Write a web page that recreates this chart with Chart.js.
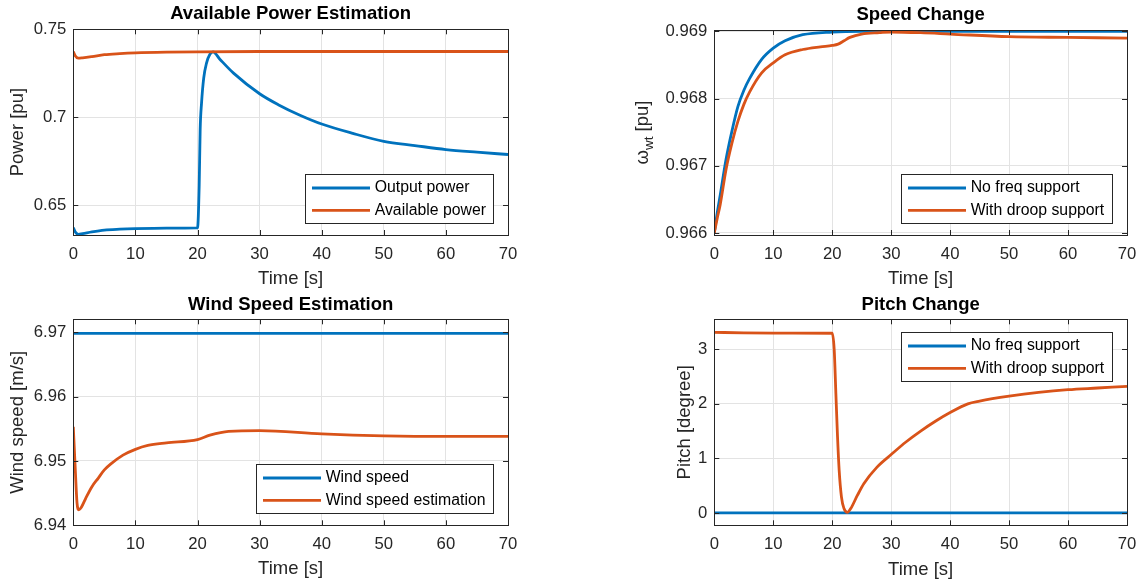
<!DOCTYPE html>
<html>
<head>
<meta charset="utf-8">
<script src="https://cdn.jsdelivr.net/npm/chart.js@4.4.1/dist/chart.umd.min.js"></script>
<style>
  html, body { margin: 0; padding: 0; background: #fff; }
  #wrap { position: relative; width: 1148px; height: 588px; overflow: hidden; }
  .panel { position: absolute; width: 574px; height: 294px; }
</style>
</head>
<body>
<div id="wrap">
  <div class="panel" style="left:0;top:0"><canvas id="c1" width="574" height="294"></canvas></div>
  <div class="panel" style="left:574px;top:0"><canvas id="c2" width="574" height="294"></canvas></div>
  <div class="panel" style="left:0;top:294px"><canvas id="c3" width="574" height="294"></canvas></div>
  <div class="panel" style="left:574px;top:294px"><canvas id="c4" width="574" height="294"></canvas></div>
</div>
<script>
// time ticks shared by all four plots
const timeTicks = [0, 10, 20, 30, 40, 50, 60, 70];

// Available power estimation
const powerTicks = [0.65, 0.7, 0.75];
const outputT = [0, 0.3, 0.8, 1.5, 3, 5, 7.5, 10, 15, 20, 20.27, 20.43, 20.65, 21.0, 21.45, 22.0, 22.5, 23.6, 25.8, 30, 33, 36.5, 40, 45, 50, 55, 60, 65, 70];
const outputPower = [0.6374, 0.6350, 0.6336, 0.6340, 0.6350, 0.6360, 0.6365, 0.6368, 0.6371, 0.6372, 0.6609, 0.6930, 0.7081, 0.7223, 0.7308, 0.7358, 0.7372, 0.7330, 0.7251, 0.7134, 0.7072, 0.7012, 0.6962, 0.6909, 0.6864, 0.6840, 0.6817, 0.6802, 0.6789];
const availT = [0, 0.3, 0.8, 1.5, 3, 5, 7.5, 10, 15, 20, 30, 40, 50, 60, 70];
const availPower = [0.7374, 0.7350, 0.7336, 0.7338, 0.7345, 0.7356, 0.7362, 0.7366, 0.7370, 0.7372, 0.7374, 0.7374, 0.7374, 0.7374, 0.7374];

// Rotor speed
const speedTicks = [0.966, 0.967, 0.968, 0.969];
const noSupT = [0, 0.5, 1, 2, 3, 4, 5, 6, 8, 10, 12, 15, 20, 25, 70];
const speedNoSup = [0.96600, 0.96630, 0.96656, 0.96710, 0.96752, 0.96788, 0.96812, 0.96830, 0.96858, 0.96875, 0.96886, 0.96895, 0.96899, 0.96900, 0.96900];
const droopT = [0, 0.5, 1, 2, 3, 4, 5, 6, 8, 10, 12, 15, 18, 20, 21, 22, 23, 25, 28, 30, 35, 40, 50, 60, 70];
const speedDroop = [0.96600, 0.96622, 0.96642, 0.96695, 0.96734, 0.96766, 0.96791, 0.96810, 0.96838, 0.96853, 0.96865, 0.96873, 0.96877, 0.96879, 0.96881, 0.96886, 0.96891, 0.96896, 0.96898, 0.96899, 0.96898, 0.96896, 0.96892, 0.96891, 0.96890];

// Wind speed estimation
const windTicks = [6.94, 6.95, 6.96, 6.97];
const windT = [0, 70];
const windSpeed = [6.9698, 6.9698];
const estT = [0, 0.3, 0.6, 0.9, 1.3, 2, 3, 4, 5, 6, 8, 10, 12, 15, 20, 22, 25, 30, 40, 50, 60, 70];
const windEst = [6.9553, 6.9491, 6.9435, 6.9424, 6.9428, 6.9442, 6.9460, 6.9473, 6.9486, 6.9495, 6.9509, 6.9518, 6.9524, 6.9528, 6.9533, 6.9540, 6.9546, 6.9547, 6.9542, 6.9539, 6.9538, 6.9538];

// Pitch angle
const pitchTicks = [0, 1, 2, 3];
const pitchNoSupT = [0, 70];
const pitchNoSup = [0, 0];
const pitchT = [0, 5, 10, 20, 20.34, 20.62, 20.9, 21.18, 21.57, 22.0, 22.58, 23.14, 24.26, 25.38, 27.6, 30, 32.5, 35, 37.5, 40, 43, 45, 50, 55, 60, 65, 70];
const pitchDroop = [3.312, 3.300, 3.295, 3.294, 2.99, 2.19, 1.40, 0.78, 0.29, 0.08, 0.01, 0.08, 0.32, 0.54, 0.84, 1.07, 1.30, 1.50, 1.68, 1.84, 2.00, 2.05, 2.14, 2.21, 2.26, 2.29, 2.32];

const FONT = "'Liberation Sans', Arial, Helvetica, sans-serif";
const AXIS = '#262626';
const BLUE = '#0072BD';
const ORANGE = '#D95319';
const LINE_W = 2.8;

function pts(t, v) {
  return t.map((x, i) => ({ x: x, y: v[i] }));
}

// box, inward ticks, bold title and boxed legend in the MATLAB look
const matlabFrame = {
  id: 'matlabFrame',
  afterDraw(chart, args, o) {
    const { ctx, chartArea: a, scales } = chart;
    const xs = scales.x, ys = scales.y;
    ctx.save();
    ctx.strokeStyle = AXIS;
    ctx.lineWidth = 1;
    ctx.beginPath();
    xs.ticks.forEach(t => {
      const px = Math.round(xs.getPixelForValue(t.value)) + 0.5;
      ctx.moveTo(px, a.bottom); ctx.lineTo(px, a.bottom - 5);
      ctx.moveTo(px, a.top); ctx.lineTo(px, a.top + 5);
    });
    ys.ticks.forEach(t => {
      const py = Math.round(ys.getPixelForValue(t.value)) + 0.5;
      ctx.moveTo(a.left, py); ctx.lineTo(a.left + 5, py);
      ctx.moveTo(a.right, py); ctx.lineTo(a.right - 5, py);
    });
    ctx.stroke();
    ctx.strokeRect(Math.round(a.left) + 0.5, Math.round(a.top) + 0.5,
      Math.round(a.right - a.left), Math.round(a.bottom - a.top));

    // title
    ctx.fillStyle = '#000';
    ctx.font = 'bold 18.5px ' + FONT;
    ctx.textAlign = 'center';
    ctx.textBaseline = 'middle';
    ctx.fillText(o.title, (a.left + a.right) / 2, o.titleY);

    // legend
    ctx.font = '15.8px ' + FONT;
    const sets = chart.data.datasets;
    const textW = Math.max(...sets.map(d => ctx.measureText(d.label).width));
    const w = Math.round(69.7 + textW + 7.5), h = 49;
    const bx = Math.round(a.right - 14.7 - w);
    const by = o.legend === 'ne' ? Math.round(a.top + 12.4) : Math.round(a.bottom - 12 - h);
    ctx.fillStyle = '#fff';
    ctx.fillRect(bx, by, w, h);
    ctx.strokeStyle = AXIS;
    ctx.strokeRect(bx + 0.5, by + 0.5, w, h);
    ctx.textAlign = 'left';
    sets.forEach((d, i) => {
      const ry = by + 14 + i * 22.4;
      ctx.strokeStyle = d.borderColor;
      ctx.lineWidth = LINE_W;
      ctx.beginPath();
      ctx.moveTo(bx + 7, ry); ctx.lineTo(bx + 65, ry);
      ctx.stroke();
      ctx.fillStyle = '#000';
      ctx.fillText(d.label, bx + 69.7, ry);
    });

    // omega label with subscript
    if (o.omegaLabel) {
      ctx.fillStyle = AXIS;
      ctx.translate(o.omegaLabel.x, (a.top + a.bottom) / 2);
      ctx.rotate(-Math.PI / 2);
      const big = '18.5px ' + FONT, small = '13.5px ' + FONT;
      ctx.font = big; const w1 = ctx.measureText('\u03c9').width;
      const w3 = ctx.measureText(' [pu]').width;
      ctx.font = small; const w2 = ctx.measureText('wt').width;
      let x0 = -(w1 + w2 + w3) / 2;
      ctx.textBaseline = 'middle';
      ctx.font = big; ctx.fillText('\u03c9', x0, 0);
      ctx.font = small; ctx.fillText('wt', x0 + w1, 6);
      ctx.font = big; ctx.fillText(' [pu]', x0 + w1 + w2, 0);
    }
    ctx.restore();
  }
};

function makePanel(id, p) {
  const datasets = p.series.map((s, i) => ({
    label: s.label,
    data: pts(s.t, s.v),
    borderColor: s.color,
    backgroundColor: s.color,
    borderWidth: LINE_W,
    pointRadius: 0,
    cubicInterpolationMode: 'monotone',
    order: p.series.length - i
  }));
  new Chart(document.getElementById(id), {
    type: 'line',
    data: { datasets },
    options: {
      responsive: false,
      animation: false,
      events: [],
      layout: { padding: { left: 0, top: p.top, right: p.right, bottom: 0 } },
      plugins: {
        legend: { display: false },
        tooltip: { enabled: false },
        matlabFrame: { title: p.title, titleY: p.titleY, legend: p.legend, omegaLabel: p.omegaLabel }
      },
      scales: {
        x: {
          type: 'linear',
          min: 0, max: 70,
          afterBuildTicks: sc => { sc.ticks = timeTicks.map(v => ({ value: v })); },
          afterFit: sc => { sc.height = p.xHeight; },
          grid: { color: '#e3e3e3', lineWidth: 1, drawTicks: false },
          border: { display: false },
          ticks: { color: AXIS, font: { family: FONT, size: 16.7 }, padding: 9, maxRotation: 0, callback: v => String(v) },
          title: { display: true, text: 'Time [s]', color: AXIS, font: { family: FONT, size: 18.5 }, padding: { top: 0, bottom: p.xTitlePad } }
        },
        y: {
          type: 'linear',
          min: p.yMin, max: p.yMax,
          afterBuildTicks: sc => { sc.ticks = p.yTicks.map(v => ({ value: v })); },
          afterFit: sc => { sc.width = p.yWidth; },
          grid: { color: '#e3e3e3', lineWidth: 1, drawTicks: false },
          border: { display: false },
          ticks: { color: AXIS, font: { family: FONT, size: 16.7 }, padding: 7, callback: v => String(v) },
          title: { display: !!p.yLabel, text: p.yLabel || '', color: AXIS, font: { family: FONT, size: 18.5 }, padding: { top: p.yTitlePad, bottom: 0 } }
        }
      }
    },
    plugins: [matlabFrame]
  });
}

makePanel('c1', {
  title: 'Available Power Estimation', titleY: 14, legend: 'se',
  top: 29.3, right: 66, yWidth: 73.3, xHeight: 59, xTitlePad: 4.4,
  yMin: 0.6332, yMax: 0.75, yTicks: powerTicks, yLabel: 'Power [pu]', yTitlePad: 6.9,
  series: [
    { label: 'Output power', t: outputT, v: outputPower, color: BLUE },
    { label: 'Available power', t: availT, v: availPower, color: ORANGE }
  ]
});

makePanel('c2', {
  title: 'Speed Change', titleY: 15, legend: 'se',
  top: 30, right: 21, yWidth: 140.3, xHeight: 59, xTitlePad: 3.6,
  yMin: 0.96597, yMax: 0.96902, yTicks: speedTicks, yLabel: null, omegaLabel: { x: 69 },
  series: [
    { label: 'No freq support', t: noSupT, v: speedNoSup, color: BLUE },
    { label: 'With droop support', t: droopT, v: speedDroop, color: ORANGE }
  ]
});

makePanel('c3', {
  title: 'Wind Speed Estimation', titleY: 11, legend: 'se',
  top: 25.3, right: 66, yWidth: 73.3, xHeight: 62.7, xTitlePad: 8,
  yMin: 6.94, yMax: 6.972, yTicks: windTicks, yLabel: 'Wind speed [m/s]', yTitlePad: 7.2,
  series: [
    { label: 'Wind speed', t: windT, v: windSpeed, color: BLUE },
    { label: 'Wind speed estimation', t: estT, v: windEst, color: ORANGE }
  ]
});

makePanel('c4', {
  title: 'Pitch Change', titleY: 11, legend: 'ne',
  top: 25.3, right: 21, yWidth: 140.3, xHeight: 62.7, xTitlePad: 7.2,
  yMin: -0.227, yMax: 3.55, yTicks: pitchTicks, yLabel: 'Pitch [degree]', yTitlePad: 99.9,
  series: [
    { label: 'No freq support', t: pitchNoSupT, v: pitchNoSup, color: BLUE },
    { label: 'With droop support', t: pitchT, v: pitchDroop, color: ORANGE }
  ]
});
</script>
</body>
</html>
